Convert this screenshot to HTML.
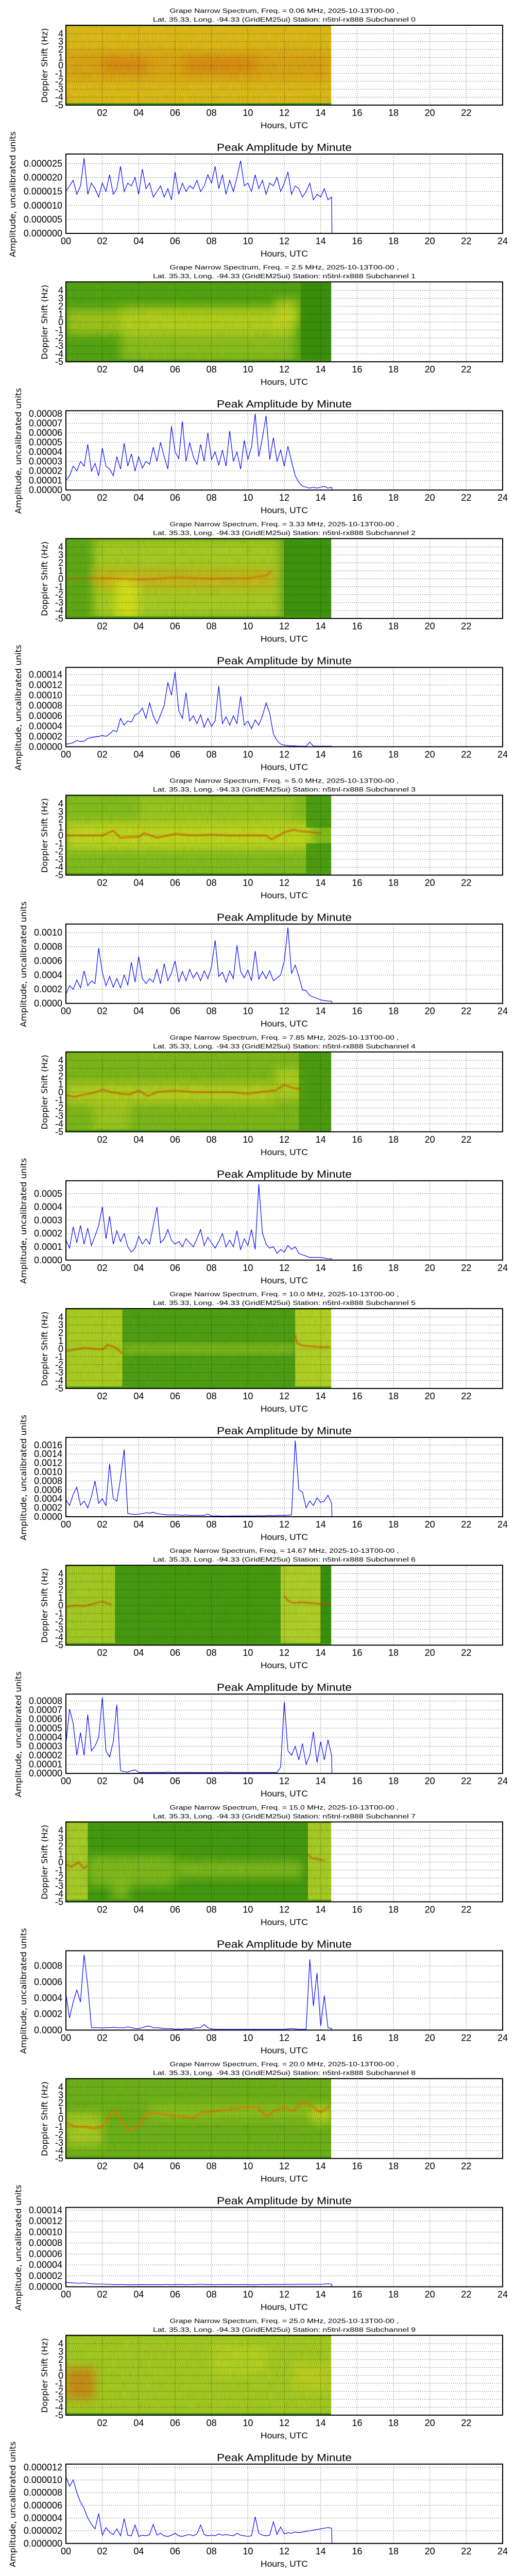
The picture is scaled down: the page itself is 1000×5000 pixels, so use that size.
<!DOCTYPE html>
<html><head><meta charset="utf-8"><title>Grape Narrow Spectrum</title>
<style>
html,body{margin:0;padding:0;background:#fff;}
svg{display:block;}
text{font-family:"Liberation Sans",sans-serif;fill:#000;}
.dj{font-family:"DejaVu Sans","Liberation Sans",sans-serif;}
</style></head>
<body>
<svg id="page" xmlns="http://www.w3.org/2000/svg" width="1000" height="5000" viewBox="0 0 1000 5000">
<defs>
<filter id="blur" x="-50%" y="-50%" width="200%" height="200%"><feGaussianBlur stdDeviation="9"/></filter>
<filter id="blur2" x="-20%" y="-50%" width="140%" height="200%"><feGaussianBlur stdDeviation="1.2"/></filter>
<filter id="grain" x="0" y="0" width="100%" height="100%"><feTurbulence type="fractalNoise" baseFrequency="0.9 0.05" numOctaves="2" seed="3"/><feColorMatrix type="matrix" values="0 0 0 0 0  0 0 0 0 0.2  0 0 0 0 0  0 0 0 0.5 0"/></filter>
</defs>
</svg>
<script>
// ---------- shared data ----------
const hours = [0,0.2,0.4,0.6,0.8,1,1.2,1.4,1.6,1.8,2,2.2,2.4,2.6,2.8,3,3.2,3.4,3.6,3.8,4,4.2,4.4,4.6,4.8,5,5.2,5.4,5.6,5.8,6,6.2,6.4,6.6,6.8,7,7.2,7.4,7.6,7.8,8,8.2,8.4,8.6,8.8,9,9.2,9.4,9.6,9.8,10,10.2,10.4,10.6,10.8,11,11.2,11.4,11.6,11.8,12,12.2,12.4,12.6,12.8,13,13.2,13.4,13.6,13.8,14,14.2,14.4,14.6];
const tailHours = [14.62, 24];
const freqs = ["0.06","2.5","3.33","5.0","7.85","10.0","14.67","15.0","20.0","25.0"];
const xTicksSpec = ["02","04","06","08","10","12","14","16","18","20","22"];
const xTicksLine = ["00","02","04","06","08","10","12","14","16","18","20","22","24"];
const dopplerTicks = ["-5","-4","-3","-2","-1","0","1","2","3","4"];

const s0 = [15,17,19,14,17, 27,14,18,16,13, 18,15,21,14,16, 24,15,18,17,20, 14,23,16,18,13, 15,17,13,16,12, 22,14,18,15,17, 16,19,15,17,21, 18,24,16,21,14, 19,15,20,26,17, 18,15,21,16,19, 14,18,17,20,15, 18,22,14,17,16, 13,15,18,12,14, 13,16,12,13];
const s1 = [1.0,1.5,2.5,2.0,3.0, 2.5,4.8,2.0,2.8,1.5, 4.4,2.5,2.2,1.5,3.5, 2.2,4.9,2.5,3.8,2.0, 3.5,2.3,3.0,2.7,4.5, 3.0,5.0,3.5,2.2,6.7, 4.0,3.3,7.2,3.0,5.0, 3.5,2.7,4.8,3.0,6.0, 3.2,4.0,2.6,4.2,2.5, 6.2,3.0,4.0,2.2,5.2, 3.2,4.5,8.0,3.5,5.5, 7.8,3.2,5.5,3.0,4.2, 2.5,4.6,3.0,1.5,0.8, 0.4,0.3,0.2,0.3,0.2, 0.3,0.4,0.2,0.3];
const s2 = [0.5,0.6,0.8,1.2,1.0, 1.1,1.6,1.8,1.9,2.0, 2.2,2.0,2.5,3.2,2.9, 5.5,4.2,5.0,4.8,6.2, 6.5,7.5,5.5,8.5,6.0, 4.5,6.2,8.0,12.5,10.0, 14.5,7.0,5.5,10.5,5.0, 6.0,4.5,6.2,3.8,5.5, 4.0,5.0,11.8,4.5,5.8, 4.2,6.0,4.5,9.8,4.2, 5.0,3.5,5.2,4.2,6.0, 8.5,6.5,2.5,1.2,0.5, 0.3,0.2,0.15,0.15,0.1, 0.1,0.1,0.9,0.1,0.1, 0.1,0.1,0.1,0.1];
const s3 = [1.3,2.5,2.0,3.3,2.2, 4.6,2.5,3.2,2.8,7.8, 4.4,2.5,3.8,2.3,3.5, 2.2,4.0,2.6,5.8,3.0, 6.6,3.5,2.8,3.5,3.0, 4.8,2.8,5.6,3.2,4.3, 6.0,3.0,4.5,3.2,4.8, 3.6,4.4,3.2,4.6,3.5, 5.2,8.9,3.8,4.4,3.0, 4.6,3.5,8.2,4.5,3.6, 4.7,3.2,7.4,3.4,4.5, 3.5,4.6,3.2,3.6,4.0, 6.0,10.7,4.2,5.4,3.8, 1.9,1.8,1.1,0.9,0.7, 0.5,0.4,0.35,0.3];
const s4 = [1.5,0.9,2.5,1.3,2.6, 1.2,2.4,1.1,1.8,2.6, 4.0,1.6,3.3,1.2,2.2, 1.4,2.0,1.0,0.6,0.9, 1.8,1.2,1.6,1.2,2.6, 4.0,1.3,1.6,2.3,1.5, 1.2,1.4,1.0,1.6,1.3, 1.0,1.6,2.3,1.1,1.7, 1.3,0.9,1.4,2.0,1.0, 1.5,1.0,2.2,0.8,1.6, 1.1,2.3,0.8,5.7,2.0, 1.2,0.9,1.0,0.5,0.8, 0.6,1.1,0.8,1.0,0.5, 0.4,0.3,0.2,0.2,0.2, 0.2,0.15,0.1,0.1];
const s5 = [3.8,2.5,5.0,6.6,2.6, 3.5,2.0,4.5,8.0,3.0, 4.0,2.5,11.8,4.0,3.5, 8.5,15.0,0.7,0.6,0.5, 0.6,0.7,0.9,0.8,1.0, 0.7,0.6,0.5,0.4,0.4, 0.4,0.4,0.3,0.4,0.3, 0.3,0.3,0.3,0.3,0.6, 0.2,0.2,0.2,0.15,0.15, 0.15,0.2,0.2,0.2,0.2, 0.2,0.2,0.2,0.25,0.2, 0.25,0.3,0.25,0.3,0.3, 0.3,0.35,0.4,17.0,6.0, 5.5,2.0,3.5,2.5,4.2, 3.2,3.5,4.8,3.0];
const s6 = [3.3,7.1,5.5,2.0,4.5, 2.0,6.5,2.5,3.0,4.0, 8.4,2.5,1.8,3.5,7.6, 0.3,0.2,0.15,0.3,0.4, 0.1,0.1,0.1,0.1,0.1, 0.1,0.12,0.1,0.15,0.1, 0.1,0.1,0.1,0.12,0.1, 0.1,0.1,0.1,0.1,0.1, 0.1,0.1,0.1,0.1,0.15, 0.1,0.1,0.1,0.1,0.1, 0.1,0.1,0.1,0.1,0.1, 0.1,0.1,0.1,0.1,0.7, 7.9,2.5,2.0,3.0,1.5, 3.3,1.0,2.0,4.6,1.2, 3.5,1.5,3.7,2.0];
const s7 = [4.5,1.5,3.5,5.0,3.5, 9.4,5.5,0.3,0.3,0.3, 0.25,0.3,0.3,0.35,0.3, 0.3,0.3,0.4,0.3,0.2, 0.2,0.3,0.45,0.5,0.3, 0.3,0.25,0.2,0.2,0.2, 0.1,0.15,0.1,0.2,0.15, 0.2,0.3,0.3,0.7,0.3, 0.15,0.1,0.1,0.1,0.1, 0.1,0.1,0.1,0.1,0.1, 0.1,0.1,0.1,0.1,0.1, 0.1,0.1,0.1,0.1,0.1, 0.1,0.15,0.2,0.15,0.1, 0.1,0.1,8.8,3.0,7.1, 0.5,4.3,0.3,0.2];
const s8 = [0.8,0.75,0.7,0.65,0.65, 0.7,0.6,0.55,0.5,0.5, 0.5,0.45,0.45,0.4,0.4, 0.4,0.4,0.38,0.38,0.4, 0.38,0.4,0.38,0.4,0.38, 0.4,0.38,0.4,0.4,0.38, 0.4,0.42,0.4,0.38,0.4, 0.4,0.42,0.45,0.42,0.4, 0.4,0.38,0.4,0.4,0.42, 0.4,0.4,0.38,0.4,0.4, 0.4,0.38,0.38,0.4,0.42, 0.4,0.42,0.44,0.42,0.4, 0.42,0.44,0.42,0.44,0.45, 0.44,0.45,0.44,0.45,0.46, 0.45,0.5,0.55,0.5];
const s9 = [10.5,9.0,10.0,8.0,6.5, 5.5,4.0,3.0,2.3,4.7, 1.3,2.5,1.8,1.4,2.3, 1.2,3.9,1.3,1.2,2.9, 1.1,1.3,1.2,1.4,3.0, 1.3,1.6,1.2,1.1,1.3, 1.6,1.2,1.1,1.3,1.4, 1.2,1.5,2.9,1.4,1.2, 1.3,1.2,1.5,1.3,1.4, 1.3,1.2,1.6,1.3,1.2, 1.1,1.2,4.2,1.6,1.3, 1.2,1.3,3.4,1.4,2.6, 1.5,1.7,1.6,1.8,1.7, 1.8,1.9,2.0,2.1,2.2, 2.3,2.4,2.5,2.4];
const seriesList = [s0,s1,s2,s3,s4,s5,s6,s7,s8,s9];
const units = [1e-6,1e-5,1e-5,1e-4,1e-4,1e-4,1e-5,1e-4,1e-5,1e-6];
const yMax = [0.0000284,0.0000832,0.000154,0.00112,0.000597,0.00177,0.0000876,0.000988,0.000145,0.0000125];

const ticks0 = ["0.000000","0.000005","0.000010","0.000015","0.000020","0.000025"];
const ticks1 = ["0.00000","0.00001","0.00002","0.00003","0.00004","0.00005","0.00006","0.00007","0.00008"];
const ticks2 = ["0.00000","0.00002","0.00004","0.00006","0.00008","0.00010","0.00012","0.00014"];
const ticks3 = ["0.0000","0.0002","0.0004","0.0006","0.0008","0.0010"];
const ticks4 = ["0.0000","0.0001","0.0002","0.0003","0.0004","0.0005"];
const ticks5 = ["0.0000","0.0002","0.0004","0.0006","0.0008","0.0010","0.0012","0.0014","0.0016"];
const ticks6 = ["0.00000","0.00001","0.00002","0.00003","0.00004","0.00005","0.00006","0.00007","0.00008"];
const ticks7 = ["0.0000","0.0002","0.0004","0.0006","0.0008"];
const ticks8 = ["0.00000","0.00002","0.00004","0.00006","0.00008","0.00010","0.00012","0.00014"];
const ticks9 = ["0.000000","0.000002","0.000004","0.000006","0.000008","0.000010","0.000012"];
const tickList = [ticks0,ticks1,ticks2,ticks3,ticks4,ticks5,ticks6,ticks7,ticks8,ticks9];

const specBase = ["#f6be1c","#5ca616","#6aac18","#92c222","#8cbc1e","#6aa818","#55a014","#4c9a12","#7ab41c","#b6d026"];
const specRegions = [
 [[0,14.58,-1.8,1.8,"#f09018",0.5,1],[2,4.5,-1,1,"#ee5a10",0.35,1],[6.5,10.5,-1,1,"#ee5a10",0.35,1]],
 [[3,12.6,-5,2,"#c4d82a",0.6,1],[0,12.5,-1.6,1.6,"#e6e220",0.6,1],[11.5,12.8,-0.5,3,"#e8e424",0.6,1],[12.9,14.58,-5,5.06,"#3d8a0e",0.8,0]],
 [[1.5,11.8,-5,5.06,"#d6e02e",0.75,1],[1.5,11.5,-1.2,1.2,"#f0a818",0.6,1],[2.7,4,-5,0,"#f2ea1c",0.85,1],[12,14.58,-5,5.06,"#3f900f",0.85,0]],
 [[0,13.5,-1.8,1.8,"#eae622",0.75,1],[4,12.5,1,5,"#c8d828",0.5,1],[13.2,14.58,1,5.06,"#3f900f",0.7,0],[13.2,14.58,-5,-1,"#3f900f",0.7,0]],
 [[0,11.5,-1.5,1.2,"#e2e026",0.7,1],[1.5,3.5,-5,-1,"#d4dc2a",0.5,1],[11.5,13,-1,3,"#e8e428",0.6,1],[12.8,14.58,-5,5.06,"#3f900f",0.7,0]],
 [[0,3.1,-5,5.06,"#c8d828",0.9,0],[3.1,12.6,-5,5.06,"#56a016",0.9,0],[3.1,12.6,-0.5,0.4,"#d8e02a",0.7,1],[12.6,14.58,-5,5.06,"#d2dc2e",0.9,0]],
 [[0,2.7,-5,5.06,"#c2d62a",0.9,0],[2.7,11.8,-5,5.06,"#4f9a12",0.9,0],[11.8,14,-5,5.06,"#d0dc30",0.9,0],[14,14.58,-5,5.06,"#3f900f",0.9,0]],
 [[0,1.2,-5,5.06,"#c8d830",0.9,0],[13.3,14.58,-5,5.06,"#c8d830",0.9,0],[1.2,6,-3,0.8,"#a8cc26",0.7,1],[6,13,-2,0.2,"#a8cc26",0.7,1],[2.5,3.5,-5,-2,"#a8cc26",0.6,1]],
 [[0,2,-3.5,0.8,"#d4dc2a",0.7,1],[4.5,14.58,-0.3,2,"#b8d428",0.5,1],[13.5,14.58,-0.5,1.5,"#e8e428",0.7,1]],
 [[0,1.6,-3,1,"#ee7018",0.7,1],[8,11,0,4,"#d8de2a",0.5,1],[12.5,14.58,-2,1.5,"#e6d828",0.5,1]]
];
const traceH = [
 [],
 [[0,14.5]],
 [[0,2,4,5,6,8,10,11,11.3]],
 [[0,1,2,2.6,3,3.5,4,4.3,5,6,7,8,9,10,11,11.3,12,12.5,13,14]],
 [[0,0.5,1,1.5,2,2.5,3,3.5,4,4.5,5,5.5,6,7,8,9,10,11,11.5,12,12.5,13]],
 [[0,0.5,1,1.5,2,2.3,2.7,3.1],[12.6,12.7,13,13.5,14,14.5]],
 [[0,0.5,1,1.5,2,2.5],[12,12.2,12.5,13,14,14.5]],
 [[0,0.3,0.7,1,1.2],[13.3,13.5,13.8,14.2]],
 [[0,0.5,1,1.5,2,2.5,2.8,3.2,3.6,4,4.5,5,6,7,7.5,8,9,10,10.5,11,11.5,12,12.5,13,13.5,14,14.5]],
 [[0,14.5]]
];
const traceD = [
 [],
 [[0,0]],
 [[0,0.1,-0.1,0,0.2,0,0.1,0.4,1.0]],
 [[0,0,0,0.6,-0.3,-0.2,-0.2,0.3,-0.3,0.2,0,0.1,0,0,0,-0.5,0.4,0.7,0.5,0.3]],
 [[-0.4,-0.6,-0.3,-0.1,0.3,0,-0.2,-0.3,0.2,-0.5,0,0.1,0.2,0,0,0,-0.2,0.1,0.2,0.9,0.5,0.4]],
 [[-0.3,-0.1,0.1,0,-0.1,0.5,0.2,-0.6],[1.8,0.7,0.4,0.3,0.2,0.2]],
 [[-0.2,0,-0.1,0.2,0.5,0.1],[1.2,0.6,0.3,0.4,0.2,0.2]],
 [[-0.3,-0.6,0,-0.8,-0.4],[1,0.5,0.4,0.2]],
 [[-0.5,-1,-1,-1.2,-1,0.6,1,-1,-1.4,-0.9,0.8,0.7,0.4,0.1,0.8,0.9,1.2,1.5,1.5,0.3,1.1,1.4,1.0,2.2,1.6,0.8,1.6]],
 [[0,0]]
];
const traceStyle = ["#e83000","#ee3a00","#f06010","#ee3a00","#ee3a00","#ee3a00","#ee3a00","#ee3a00","#f08010","#f07030"];
const ampLabelX = [24,35,35,45,45,45,35,45,35,24];

const NS = "http://www.w3.org/2000/svg";
const svg = document.getElementById("page");
function mk(tag, attrs, parent){
  const e = document.createElementNS(NS, tag);
  for (const k in attrs) e.setAttribute(k, attrs[k]);
  (parent||svg).appendChild(e);
  return e;
}
const PL = 128, PR = 976, DATA_END = 14.58;
const X = h => PL + h/24*(PR-PL);
const PERIOD = 498.2;

for (let k=0; k<10; k++){
  const oy = k*PERIOD;
  const g = mk("g", {});
  
  

  const sT = oy+49, sB = oy+204, dMin=-5, dMax=5.06;
  const Ys = d => sT + (dMax-d)/(dMax-dMin)*(sB-sT);
  const t1 = mk("text", {x:552, y:oy+25, "text-anchor":"middle", "font-size":"11.5", textLength:"445", lengthAdjust:"spacingAndGlyphs"}, g);
  t1.textContent = "Grape Narrow Spectrum, Freq. = " + freqs[k] + " MHz, 2025-10-13T00-00 ,";
  
  
  const t2 = mk("text", {x:552, y:oy+42, "text-anchor":"middle", "font-size":"11.5", textLength:"510", lengthAdjust:"spacingAndGlyphs"}, g);
  t2.textContent = "Lat.  35.33, Long. -94.33 (GridEM25ui) Station: n5tnl-rx888 Subchannel " + k;
  
  

  const clipId = "clip"+k;
  const cp = mk("clipPath", {id:clipId}, g);
  mk("rect", {x:PL, y:sT, width:X(DATA_END)-PL, height:sB-sT}, cp);
  const sg = mk("g", {"clip-path":"url(#"+clipId+")"}, g);
  
  
  mk("rect", {x:PL, y:sT, width:X(DATA_END)-PL, height:sB-sT, fill:specBase[k]}, sg);
  specRegions[k].forEach(r=>{
    const rr = mk("rect", {x:X(r[0]), y:Ys(r[3]), width:X(r[1])-X(r[0]), height:Ys(r[2])-Ys(r[3]), fill:r[4], opacity:r[5]}, sg);
    if (r[6]) rr.setAttribute("filter","url(#blur)");
    
    
  });
  traceH[k].forEach((th,i)=>{
    const td = traceD[k][i];
    const pts = th.map((h,j)=>X(h).toFixed(1)+","+Ys(td[j]).toFixed(1)).join(" ");
    const pl = mk("polyline", {points:pts, fill:"none", stroke:traceStyle[k], "stroke-width": k===8?4:2.2, opacity: k===9?0.5:0.9, filter:"url(#blur2)"}, sg);
    
    
  });
  const gr = mk("rect", {x:PL, y:sT, width:X(DATA_END)-PL, height:sB-sT, filter:"url(#grain)", opacity:"0.5"}, sg);
  
  
  mk("rect", {x:PL, y:sT, width:X(DATA_END)-PL, height:2, fill:"#5aa010"}, sg);
  mk("rect", {x:PL, y:sB-4, width:X(DATA_END)-PL, height:4, fill:"#4a9a10"}, sg);

  const sgrid = mk("g", {stroke:"#000", "stroke-width":"1", "stroke-dasharray":"1,3", opacity:"0.8"}, g);
  
  
  xTicksSpec.forEach(t=>{ const x=X(parseFloat(t)); mk("line",{x1:x,x2:x,y1:sT,y2:sB},sgrid); });
  dopplerTicks.forEach(t=>{ const y=Ys(parseFloat(t)); mk("line",{x1:PL,x2:PR,y1:y,y2:y},sgrid); });
  const sf = mk("rect", {x:PL, y:sT, width:PR-PL, height:sB-sT, fill:"none", stroke:"#000", "stroke-width":"2"}, g);
  
  

  xTicksSpec.forEach(t=>{
    const tx = mk("text", {x:X(parseFloat(t)), y:oy+225, "text-anchor":"middle", "font-size":"18"}, g);
    tx.textContent = t;
    
    
  });
  dopplerTicks.forEach(t=>{
    const ty = mk("text", {x:123, y:Ys(parseFloat(t))+6, "text-anchor":"end", "font-size":"18"}, g);
    ty.textContent = t;
    
    
  });
  const sxl = mk("text", {x:552, y:oy+249, "text-anchor":"middle", "font-size":"17", textLength:"92", lengthAdjust:"spacingAndGlyphs"}, g);
  sxl.textContent = "Hours, UTC";
  
  
  const syl = mk("text", {x:0, y:0, "text-anchor":"middle", "font-size":"16", "class":"dj", textLength:"145", lengthAdjust:"spacingAndGlyphs", transform:"translate(92,"+(oy+127)+") rotate(-90)"}, g);
  syl.textContent = "Doppler Shift (Hz)";
  
  

  const lT = oy+299, lB = oy+453;
  const vmax = yMax[k];
  const Yl = v => lB - v/vmax*(lB-lT);
  const pt = mk("text", {x:552, y:oy+293, "text-anchor":"middle", "font-size":"20", textLength:"262", lengthAdjust:"spacingAndGlyphs"}, g);
  pt.textContent = "Peak Amplitude by Minute";
  
  

  const lgrid = mk("g", {stroke:"#000", "stroke-width":"1", "stroke-dasharray":"1,3", opacity:"0.8"}, g);
  
  
  xTicksLine.forEach(t=>{ const x=X(parseFloat(t)); mk("line",{x1:x,x2:x,y1:lT,y2:lB},lgrid); });
  tickList[k].forEach(t=>{ const y=Yl(parseFloat(t)); mk("line",{x1:PL,x2:PR,y1:y,y2:y},lgrid); });

  const ser = seriesList[k];
  const pts = hours.map((h,i)=>X(h).toFixed(1)+","+Yl(ser[i]*units[k]).toFixed(1));
  tailHours.forEach(h=>pts.push(X(h).toFixed(1)+","+Yl(0).toFixed(1)));
  const line = mk("polyline", {points:pts.join(" "), fill:"none", stroke:"#0000ff", "stroke-width":"1.2", "stroke-linejoin":"miter"}, g);
  
  

  const lf = mk("rect", {x:PL, y:lT, width:PR-PL, height:lB-lT, fill:"none", stroke:"#000", "stroke-width":"2"}, g);
  
  

  xTicksLine.forEach(t=>{
    const tx = mk("text", {x:X(parseFloat(t)), y:oy+474, "text-anchor":"middle", "font-size":"18"}, g);
    tx.textContent = t;
    
    
  });
  tickList[k].forEach(t=>{
    const ty = mk("text", {x:121, y:Yl(parseFloat(t))+6, "text-anchor":"end", "font-size":"18"}, g);
    ty.textContent = t;
    
    
  });
  const lxl = mk("text", {x:552, y:oy+498, "text-anchor":"middle", "font-size":"17", textLength:"92", lengthAdjust:"spacingAndGlyphs"}, g);
  lxl.textContent = "Hours, UTC";
  
  
  const lyl = mk("text", {x:0, y:0, "text-anchor":"middle", "font-size":"16", "class":"dj", textLength:"244", lengthAdjust:"spacingAndGlyphs", transform:"translate("+(ampLabelX[k]+6)+","+(oy+377)+") rotate(-90)"}, g);
  lyl.textContent = "Amplitude, uncalibrated units";
  
  
}
</script>
</body></html>
